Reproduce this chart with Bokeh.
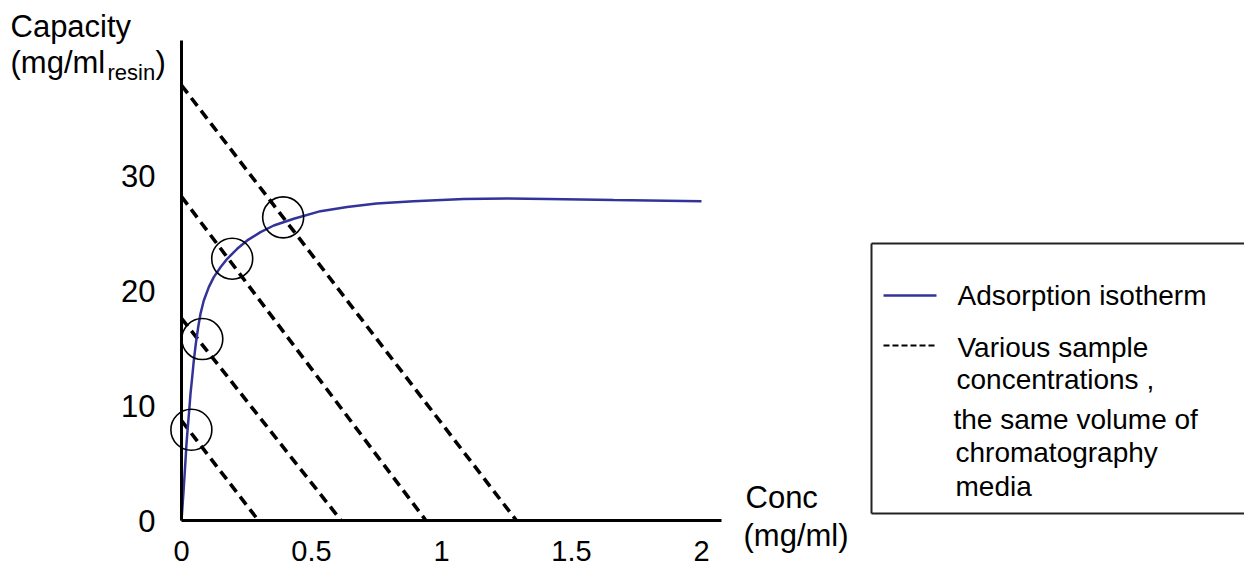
from bokeh.plotting import figure
from bokeh.models import Range1d, Label, Arrow, FixedTicker, NumeralTickFormatter
from bokeh.embed import file_html
from bokeh.resources import INLINE

# ---------------- data ----------------
x_tick_values = [0, 0.5, 1, 1.5, 2]
x_tick_labels = ["0", "0.5", "1", "1.5", "2"]
y_tick_values = [0, 10, 20, 30]
y_tick_labels = ["0", "10", "20", "30"]

# adsorption isotherm (conc mg/ml, capacity mg/ml resin)
isotherm_conc = [0.0, 0.008, 0.0154, 0.0192, 0.0242, 0.0296, 0.0346, 0.0412, 0.0473,
                 0.0550, 0.0642, 0.0731, 0.0858, 0.1050, 0.1242, 0.150, 0.1758,
                 0.2142, 0.2527, 0.3038, 0.3550, 0.4319, 0.5346, 0.637, 0.75,
                 0.893, 1.086, 1.25, 1.407, 1.662, 2.0]
isotherm_capacity = [0.0, 2.6, 5.23, 6.68, 8.13, 9.58, 11.03, 12.48, 13.93,
                     15.38, 16.84, 18.00, 19.16, 20.32, 21.19, 22.06, 22.79,
                     23.66, 24.39, 25.11, 25.69, 26.28, 26.94, 27.3, 27.6,
                     27.8, 28.0, 28.05, 28.0, 27.9, 27.8]

# dashed operating lines for various sample concentrations
sample_capacity_intercept = [8.7, 17.6, 28.2, 37.9]
sample_conc_intercept = [0.296, 0.614, 0.940, 1.288]

# circled intersection points
point_conc = [0.038, 0.080, 0.195, 0.391]
point_capacity = [7.9, 15.8, 22.8, 26.4]

legend_line_labels = ["Adsorption isotherm", "Various sample"]
legend_extra_lines = ["concentrations ,", "the same volume of", "chromatography", "media"]

y_title = ["Capacity", "(mg/ml", "resin", ")"]
x_title = ["Conc", "(mg/ml)"]

# ---------------- layout (pixel geometry of the drawing) ----------------
W, H = 1244, 572
X0_PX, Y0_PX = 181, 520          # where conc=0 / capacity=0 sit
PX_PER_X = 260.0                 # pixels per mg/ml
PX_PER_Y = 11.483                # pixels per mg/ml resin
X_AXIS_END = 2.077               # right end of x axis line
Y_AXIS_END = 41.8                # top end of y axis line
FONT = "Liberation Sans"
BLUE = "#333399"


def dx(sx):
    return (sx - X0_PX) / PX_PER_X


def dy(sy):
    return (Y0_PX - sy) / PX_PER_Y


p = figure(width=W, height=H,
           x_range=Range1d(dx(0), dx(W)), y_range=Range1d(dy(H), dy(0)),
           output_backend="svg", toolbar_location=None,
           min_border_left=0, min_border_right=0,
           min_border_top=0, min_border_bottom=0)
p.outline_line_color = None
p.grid.visible = False
p.background_fill_color = "white"
p.border_fill_color = "white"

for ax in (p.xaxis[0], p.yaxis[0]):
    ax.fixed_location = 0
    ax.axis_line_width = 3
    ax.axis_line_color = "black"
    ax.major_tick_in = 0
    ax.major_tick_out = 0
    ax.minor_tick_in = 0
    ax.minor_tick_out = 0
    ax.major_label_text_font = FONT
    ax.major_label_text_color = "black"

p.xaxis.bounds = (0, X_AXIS_END)
p.yaxis.bounds = (0, Y_AXIS_END)
p.xaxis.ticker = FixedTicker(ticks=x_tick_values)
p.xaxis.formatter = NumeralTickFormatter(format="0.[0]")
p.xaxis.major_label_overrides = {v: l for v, l in zip(x_tick_values, x_tick_labels)}
p.xaxis.major_label_text_font_size = "29px"
p.xaxis.major_label_standoff = 20
p.yaxis.ticker = FixedTicker(ticks=y_tick_values)
p.yaxis.formatter = NumeralTickFormatter(format="0")
p.yaxis.major_label_overrides = {v: l for v, l in zip(y_tick_values, y_tick_labels)}
p.yaxis.major_label_text_font_size = "31px"
p.yaxis.major_label_standoff = 26

# dashed sample lines
p.segment(x0=[0] * len(sample_capacity_intercept), y0=sample_capacity_intercept,
          x1=sample_conc_intercept, y1=[0] * len(sample_conc_intercept),
          line_color="black", line_width=3.6, line_dash="10 6")

# isotherm
p.line(isotherm_conc, isotherm_capacity, line_color=BLUE, line_width=2.5)

# circles
p.scatter(point_conc, point_capacity, marker="circle", size=41,
          fill_color=None, line_color="black", line_width=1.6)


# ---------------- texts ----------------
def lab(text, sx, sy, size, align="left"):
    p.add_layout(Label(x=dx(sx), y=dy(sy), text=text, text_font=FONT,
                       text_font_size=size, text_color="black",
                       text_align=align, text_baseline="middle"))


lab(y_title[0], 10, 26, "31px")
lab(y_title[1], 10, 62, "31px")
lab(y_title[2], 107, 72, "22px")
lab(y_title[3], 155, 62, "31px")
lab(x_title[0], 745, 497, "31px")
lab(x_title[1], 743, 535, "31px")


# ---------------- legend ----------------
def seg(sx0, sy0, sx1, sy1, color, width, dash="solid"):
    p.add_layout(Arrow(x_start=dx(sx0), y_start=dy(sy0), x_end=dx(sx1), y_end=dy(sy1),
                       start=None, end=None, line_color=color, line_width=width,
                       line_dash=dash))


# box (right edge lies beyond the window)
BL, BT, BB, BR = 871, 243, 513, 1252
seg(BL, BT, BR, BT, "#222222", 2)
seg(BL, BB, BR, BB, "#222222", 2)
seg(BL, BT, BL, BB, "#222222", 2)

seg(883, 295, 936, 295, BLUE, 2.5)
seg(883, 345, 936, 345, "black", 2, "6 3")

lab(legend_line_labels[0], 957, 295, "28px")
lab(legend_line_labels[1], 957, 347, "28px")
lab(legend_extra_lines[0], 956, 379, "28px")
lab(legend_extra_lines[1], 953, 419, "28px")
lab(legend_extra_lines[2], 955, 452, "28px")
lab(legend_extra_lines[3], 955, 486, "28px")

open("out.html", "w").write(file_html(p, INLINE))
